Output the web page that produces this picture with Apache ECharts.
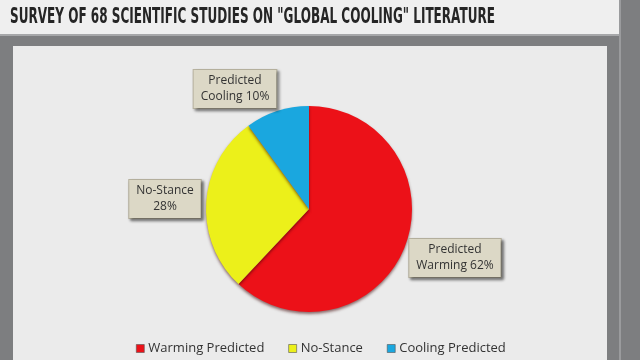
<!DOCTYPE html>
<html><head><meta charset="utf-8">
<script src="https://cdn.jsdelivr.net/npm/echarts@6/dist/echarts.min.js"></script>
<style>html,body{margin:0;padding:0;background:#7d7e80;}#c{width:640px;height:360px;}</style>
</head><body><div id="c"></div>
<script>
const titleText = 'SURVEY OF 68 SCIENTIFIC STUDIES ON "GLOBAL COOLING" LITERATURE';
const categories = ['Warming Predicted', 'No-Stance', 'Cooling Predicted'];
const values = [62, 28, 10];
const labelPrefixes = ['Predicted\nWarming ', 'No-Stance\n', 'Predicted\nCooling '];
const colors = ['#ec1118', '#ecf01a', '#1aa7df'];
const labelCenters = [[455, 258], [165, 199], [235, 89]];

const titleFont = 'bold 21px "DejaVu Sans"';
const mctx = document.createElement('canvas').getContext('2d');
mctx.font = titleFont;
const titleScale = 485 / mctx.measureText(titleText).width;

const chart = echarts.init(document.getElementById('c'), null, {renderer: 'canvas'});
chart.setOption({
  backgroundColor: '#7d7e80',
  animation: false,
  graphic: [
    {type: 'rect', shape: {x: 0, y: 0, width: 620, height: 34}, style: {fill: '#efefef'}, z: -10},
    {type: 'rect', shape: {x: 0, y: 34, width: 620, height: 2}, style: {fill: '#a6a7a9'}, z: -10},
    {type: 'rect', shape: {x: 619, y: 0, width: 2, height: 360}, style: {fill: '#9a9b9d'}, z: -10},
    {type: 'rect', shape: {x: 13, y: 46, width: 594, height: 314}, style: {fill: '#ebebeb'}, z: -10},
    {type: 'text', x: 10, y: 18, scaleX: titleScale, z: 10,
     style: {text: titleText, font: titleFont, fill: '#252525', verticalAlign: 'middle', align: 'left'}}
  ],
  legend: {
    data: categories, left: 131, top: 337,
    itemWidth: 8, itemHeight: 8, itemGap: 24, icon: 'rect',
    itemStyle: {borderColor: '#555', borderWidth: 0.6},
    textStyle: {fontFamily: 'Open Sans', fontSize: 13, color: '#333', padding: [0, 0, 0, -1]}
  },
  series: [{
    type: 'pie',
    center: [309, 209],
    radius: 103,
    startAngle: 90,
    clockwise: true,
    silent: true,
    itemStyle: {shadowColor: 'rgba(60,0,0,0.55)', shadowBlur: 3, shadowOffsetY: 2},
    labelLine: {show: false},
    label: {
      show: true, position: 'outside',
      formatter: p => labelPrefixes[p.dataIndex] + p.value + '%',
      fontFamily: 'Open Sans', fontSize: 12, lineHeight: 16, color: '#333',
      align: 'center',
      backgroundColor: '#dcd8c6', borderColor: '#b8b3a0', borderWidth: 1,
      padding: [3, 7, 3, 7],
      shadowColor: 'rgba(0,0,0,0.45)', shadowBlur: 3, shadowOffsetX: 2, shadowOffsetY: 2
    },
    labelLayout: p => ({x: labelCenters[p.dataIndex][0], y: labelCenters[p.dataIndex][1], align: 'center', verticalAlign: 'middle'}),
    data: categories.map((c, i) => ({name: c, value: values[i], itemStyle: {color: colors[i]}}))
  }]
});
</script></body></html>
